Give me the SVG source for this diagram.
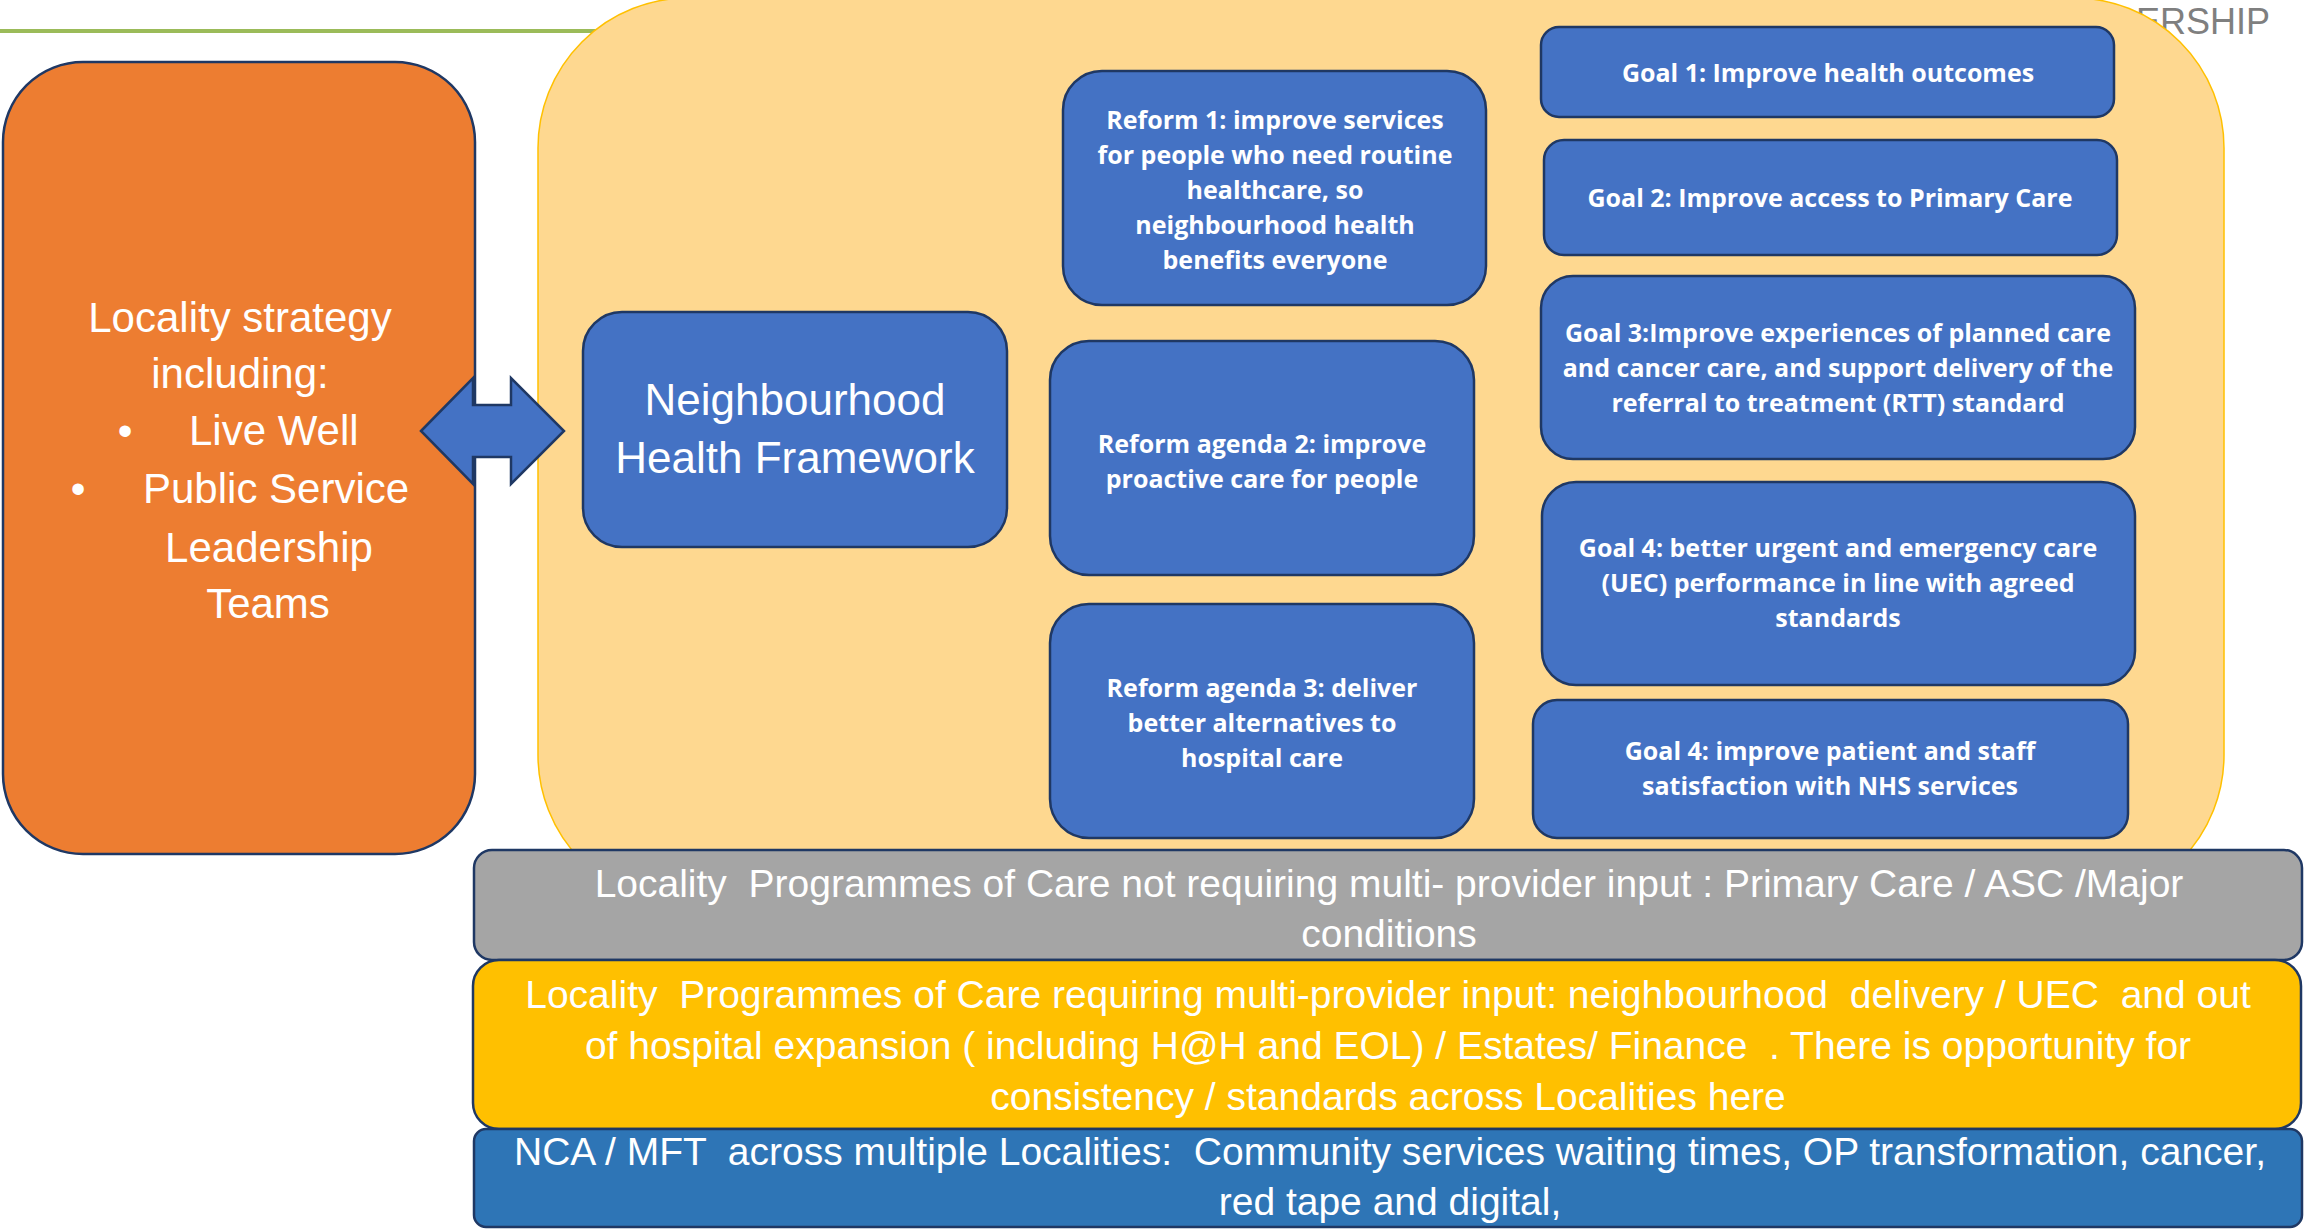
<svg xmlns="http://www.w3.org/2000/svg" width="2305" height="1232" viewBox="0 0 2305 1232">
<style>
.bx{fill:#4472C4;stroke:#1F3864;stroke-width:2.5}
.t{font-family:"Liberation Sans",Arial,sans-serif;fill:#fff}
.tb{font-family:"Open Sans","Liberation Sans",sans-serif;font-weight:700;font-size:25px;fill:#fff;text-anchor:middle}
.band{font-family:"Liberation Sans",Arial,sans-serif;font-size:39px;fill:#fff;text-anchor:middle;white-space:pre}
</style>
<rect x="0" y="0" width="2305" height="1232" fill="#ffffff"/>
<line x1="0" y1="31" x2="700" y2="31" stroke="#9BBB59" stroke-width="4"/>
<text x="2270" y="34" font-family="Liberation Sans,Arial,sans-serif" font-size="36" fill="#7F7F7F" text-anchor="end">ERSHIP</text>

<g id="framework-area">
<rect x="538" y="-2" width="1686" height="907" rx="150" ry="150" fill="#FED890" stroke="#FFC000" stroke-width="1.5"/>
</g>

<g id="locality-strategy">
<rect x="3" y="62" width="472" height="792" rx="80" ry="80" fill="#ED7D31" stroke="#1F3864" stroke-width="2.5"/>
<text class="t" font-size="42" text-anchor="middle" x="240" y="332">Locality strategy</text>
<text class="t" font-size="42" text-anchor="middle" x="240" y="388">including:</text>
<text class="t" font-size="42" text-anchor="middle" x="125" y="445">•</text>
<text class="t" font-size="42" x="189" y="445">Live Well</text>
<text class="t" font-size="42" text-anchor="middle" x="78" y="503">•</text>
<text class="t" font-size="42" x="143" y="503">Public Service</text>
<text class="t" font-size="42" text-anchor="middle" x="269" y="562">Leadership</text>
<text class="t" font-size="42" text-anchor="middle" x="268" y="618">Teams</text>
</g>

<g id="connectors">
<polygon points="421,431 473,378 473,405 511,405 511,378 564,431 511,484 511,457 473,457 473,484" fill="#4472C4" stroke="#1F3864" stroke-width="2.5" stroke-linejoin="miter"/>
</g>

<g id="neighbourhood-health-framework">
<rect class="bx" x="583" y="312" width="424" height="235" rx="39" ry="39"/>
<text class="t" font-size="44" text-anchor="middle" x="795" y="415">Neighbourhood</text>
<text class="t" font-size="44" text-anchor="middle" x="795" y="473">Health Framework</text>
</g>

<g id="reform-1">
<rect class="bx" x="1063" y="71" width="423" height="234" rx="39" ry="39"/>
<text class="tb" x="1275" y="129">Reform 1: improve services</text>
<text class="tb" x="1275" y="164">for people who need routine</text>
<text class="tb" x="1275" y="199">healthcare, so</text>
<text class="tb" x="1275" y="234">neighbourhood health</text>
<text class="tb" x="1275" y="269">benefits everyone</text>
</g>

<g id="reform-2">
<rect class="bx" x="1050" y="341" width="424" height="234" rx="39" ry="39"/>
<text class="tb" x="1262" y="453">Reform agenda 2: improve</text>
<text class="tb" x="1262" y="488">proactive care for people</text>
</g>

<g id="reform-3">
<rect class="bx" x="1050" y="604" width="424" height="234" rx="39" ry="39"/>
<text class="tb" x="1262" y="697">Reform agenda 3: deliver</text>
<text class="tb" x="1262" y="732">better alternatives to</text>
<text class="tb" x="1262" y="767">hospital care</text>
</g>

<g id="goal-1">
<rect class="bx" x="1541" y="27" width="573" height="90" rx="18" ry="18"/>
<text class="tb" x="1828" y="82">Goal 1: Improve health outcomes</text>
</g>

<g id="goal-2">
<rect class="bx" x="1544" y="140" width="573" height="115" rx="20" ry="20"/>
<text class="tb" x="1830" y="207">Goal 2: Improve access to Primary Care</text>
</g>

<g id="goal-3">
<rect class="bx" x="1541" y="276" width="594" height="183" rx="32" ry="32"/>
<text class="tb" x="1838" y="342">Goal 3:Improve experiences of planned care</text>
<text class="tb" x="1838" y="377">and cancer care, and support delivery of the</text>
<text class="tb" x="1838" y="412">referral to treatment (RTT) standard</text>
</g>

<g id="goal-4-uec">
<rect class="bx" x="1542" y="482" width="593" height="203" rx="34" ry="34"/>
<text class="tb" x="1838" y="557">Goal 4: better urgent and emergency care</text>
<text class="tb" x="1838" y="592">(UEC) performance in line with agreed</text>
<text class="tb" x="1838" y="627">standards</text>
</g>

<g id="goal-4-satisfaction">
<rect class="bx" x="1533" y="700" width="595" height="138" rx="24" ry="24"/>
<text class="tb" x="1830" y="760">Goal 4: improve patient and staff</text>
<text class="tb" x="1830" y="795">satisfaction with NHS services</text>
</g>

<g id="band-not-multi-provider">
<rect x="474" y="850" width="1828" height="110" rx="18" ry="18" fill="#A5A5A5" stroke="#1F3864" stroke-width="2.5"/>
<text class="band" x="1389" y="897" xml:space="preserve">Locality  Programmes of Care not requiring multi- provider input : Primary Care / ASC /Major</text>
<text class="band" x="1389" y="947">conditions</text>
</g>

<g id="band-multi-provider">
<rect x="473" y="960" width="1828" height="169" rx="26" ry="26" fill="#FFC000" stroke="#1F3864" stroke-width="2.5"/>
<text class="band" x="1388" y="1008" xml:space="preserve">Locality  Programmes of Care requiring multi-provider input: neighbourhood  delivery / UEC  and out</text>
<text class="band" x="1388" y="1059" xml:space="preserve">of hospital expansion ( including H@H and EOL) / Estates/ Finance  . There is opportunity for</text>
<text class="band" x="1388" y="1110">consistency / standards across Localities here</text>
</g>

<g id="band-nca-mft">
<rect x="474" y="1129" width="1828" height="98" rx="12" ry="12" fill="#2E75B6" stroke="#1F3864" stroke-width="2.5"/>
<text class="band" x="1390" y="1165" xml:space="preserve">NCA / MFT  across multiple Localities:  Community services waiting times, OP transformation, cancer,</text>
<text class="band" x="1390" y="1215">red tape and digital,</text>
</g>
</svg>
